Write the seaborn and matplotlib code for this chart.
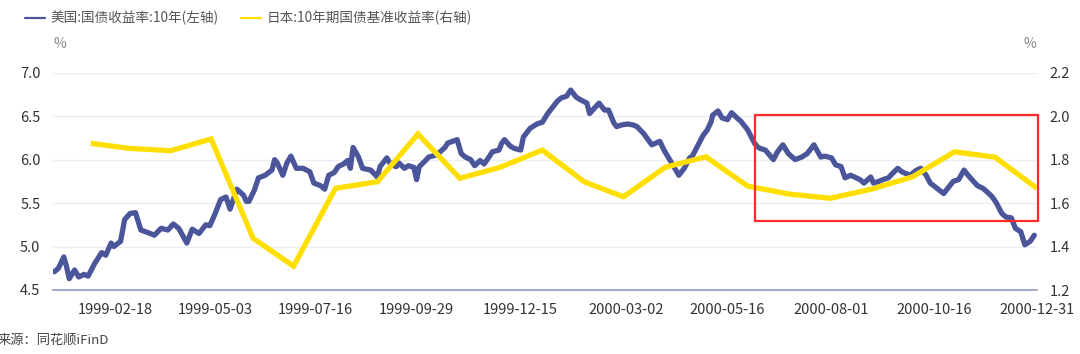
import matplotlib
matplotlib.use('Agg')
import matplotlib.pyplot as plt
import matplotlib.dates as mdates
from matplotlib.patches import Rectangle
from matplotlib.lines import Line2D
import seaborn as sns
import pandas as pd

# ---------------- data ----------------
us_dates = [
    "1999-01-04", "1999-01-07", "1999-01-11", "1999-01-13", "1999-01-15", "1999-01-19", "1999-01-22",
    "1999-01-26", "1999-01-29", "1999-02-03", "1999-02-08", "1999-02-11", "1999-02-15", "1999-02-17",
    "1999-02-22", "1999-02-25", "1999-03-01", "1999-03-05", "1999-03-09", "1999-03-16", "1999-03-19",
    "1999-03-24", "1999-03-29", "1999-04-02", "1999-04-06", "1999-04-12", "1999-04-16", "1999-04-21",
    "1999-04-26", "1999-04-29", "1999-05-03", "1999-05-07", "1999-05-11", "1999-05-14", "1999-05-19",
    "1999-05-24", "1999-05-26", "1999-05-28", "1999-06-01", "1999-06-04", "1999-06-09", "1999-06-14",
    "1999-06-16", "1999-06-18", "1999-06-22", "1999-06-25", "1999-06-28", "1999-07-02", "1999-07-07",
    "1999-07-12", "1999-07-15", "1999-07-20", "1999-07-23", "1999-07-26", "1999-07-30", "1999-08-02",
    "1999-08-06", "1999-08-09", "1999-08-11", "1999-08-13", "1999-08-17", "1999-08-20", "1999-08-26",
    "1999-08-31", "1999-09-02", "1999-09-07", "1999-09-10", "1999-09-14", "1999-09-16", "1999-09-20",
    "1999-09-23", "1999-09-27", "1999-09-29", "1999-10-01", "1999-10-05", "1999-10-08", "1999-10-13",
    "1999-10-15", "1999-10-20", "1999-10-22", "1999-10-29", "1999-11-01", "1999-11-04", "1999-11-08",
    "1999-11-11", "1999-11-15", "1999-11-18", "1999-11-22", "1999-11-24", "1999-11-29", "1999-12-01",
    "1999-12-03", "1999-12-07", "1999-12-10", "1999-12-15", "1999-12-17", "1999-12-22", "1999-12-27",
    "1999-12-31", "2000-01-04", "2000-01-07", "2000-01-11", "2000-01-14", "2000-01-18", "2000-01-21",
    "2000-01-25", "2000-01-28", "2000-02-02", "2000-02-04", "2000-02-08", "2000-02-11", "2000-02-15",
    "2000-02-18", "2000-02-22", "2000-02-24", "2000-02-28", "2000-03-03", "2000-03-07", "2000-03-10",
    "2000-03-15", "2000-03-21", "2000-03-27", "2000-03-30", "2000-04-04", "2000-04-10", "2000-04-14",
    "2000-04-18", "2000-04-20", "2000-04-25", "2000-04-28", "2000-05-01", "2000-05-04", "2000-05-05",
    "2000-05-09", "2000-05-12", "2000-05-16", "2000-05-19", "2000-05-23", "2000-05-26", "2000-05-31",
    "2000-06-05", "2000-06-07", "2000-06-09", "2000-06-13", "2000-06-19", "2000-06-22", "2000-06-26",
    "2000-06-30", "2000-07-05", "2000-07-10", "2000-07-14", "2000-07-19", "2000-07-24", "2000-07-27",
    "2000-08-01", "2000-08-04", "2000-08-08", "2000-08-11", "2000-08-15", "2000-08-18", "2000-08-22",
    "2000-08-25", "2000-08-30", "2000-09-01", "2000-09-05", "2000-09-08", "2000-09-12", "2000-09-15",
    "2000-09-19", "2000-09-22", "2000-09-28", "2000-10-03", "2000-10-06", "2000-10-10", "2000-10-13",
    "2000-10-18", "2000-10-23", "2000-10-26", "2000-10-30", "2000-11-03", "2000-11-07", "2000-11-10",
    "2000-11-14", "2000-11-17", "2000-11-21", "2000-11-24", "2000-11-28", "2000-12-01", "2000-12-05",
    "2000-12-08", "2000-12-12", "2000-12-15", "2000-12-19", "2000-12-22", "2000-12-26", "2000-12-29",
]
us_yield = [
    4.71, 4.75, 4.88, 4.77, 4.63, 4.73, 4.65,
    4.68, 4.66, 4.81, 4.93, 4.90, 5.04, 5.00,
    5.06, 5.31, 5.38, 5.39, 5.19, 5.15, 5.13,
    5.21, 5.19, 5.26, 5.21, 5.04, 5.20, 5.15,
    5.25, 5.24, 5.38, 5.54, 5.57, 5.43, 5.66,
    5.59, 5.52, 5.52, 5.65, 5.79, 5.82, 5.88,
    6.00, 5.96, 5.82, 5.96, 6.04, 5.90, 5.90,
    5.86, 5.73, 5.70, 5.66, 5.82, 5.85, 5.92,
    5.95, 5.99, 5.90, 6.14, 6.03, 5.90, 5.88,
    5.80, 5.92, 6.02, 5.94, 5.92, 5.96, 5.90,
    5.93, 5.91, 5.77, 5.92, 5.98, 6.03, 6.05,
    6.07, 6.14, 6.19, 6.23, 6.07, 6.03, 6.00,
    5.93, 5.99, 5.95, 6.04, 6.09, 6.11, 6.19,
    6.23, 6.16, 6.13, 6.11, 6.26, 6.36, 6.41,
    6.43, 6.53, 6.59, 6.67, 6.71, 6.73, 6.80,
    6.72, 6.69, 6.65, 6.53, 6.60, 6.65, 6.57,
    6.57, 6.42, 6.38, 6.40, 6.41, 6.40, 6.38,
    6.30, 6.17, 6.21, 6.11, 5.98, 5.82, 5.90,
    6.02, 6.04, 6.19, 6.28, 6.34, 6.44, 6.51,
    6.56, 6.48, 6.46, 6.54, 6.48, 6.44, 6.34,
    6.19, 6.15, 6.13, 6.11, 6.00, 6.09, 6.17,
    6.07, 6.00, 6.03, 6.07, 6.17, 6.03, 6.04,
    6.02, 5.94, 5.92, 5.79, 5.82, 5.80, 5.77,
    5.73, 5.80, 5.73, 5.75, 5.77, 5.79, 5.84,
    5.90, 5.86, 5.82, 5.88, 5.90, 5.82, 5.73,
    5.67, 5.61, 5.67, 5.75, 5.77, 5.88, 5.82,
    5.75, 5.70, 5.67, 5.63, 5.57, 5.50, 5.38,
    5.34, 5.33, 5.21, 5.17, 5.02, 5.06, 5.13,
]

jp_dates = [
    "1999-01-31", "1999-02-28", "1999-03-31", "1999-04-30", "1999-05-31", "1999-06-30",
    "1999-07-31", "1999-08-31", "1999-09-30", "1999-10-31", "1999-11-30", "1999-12-31",
    "2000-01-31", "2000-02-29", "2000-03-31", "2000-04-30", "2000-05-31", "2000-06-30",
    "2000-07-31", "2000-08-31", "2000-09-30", "2000-10-31", "2000-11-30", "2000-12-31",
]
jp_yield = [
    1.875, 1.852, 1.841, 1.895, 1.438, 1.310,
    1.668, 1.698, 1.918, 1.714, 1.765, 1.844,
    1.698, 1.629, 1.765, 1.813, 1.678, 1.642,
    1.622, 1.665, 1.721, 1.836, 1.811, 1.668,
]

tick_labels = ["1999-02-18", "1999-05-03", "1999-07-16", "1999-09-29", "1999-12-15",
               "2000-03-02", "2000-05-16", "2000-08-01", "2000-10-16", "2000-12-31"]
left_ticks = [4.5, 5.0, 5.5, 6.0, 6.5, 7.0]
right_ticks = [1.2, 1.4, 1.6, 1.8, 2.0, 2.2]

us_name = "美国:国债收益率:10年(左轴)"
jp_name = "日本:10年期国债基准收益率(右轴)"
source_text = "来源：同花顺iFinD"

us_df = pd.DataFrame({"date": pd.to_datetime(us_dates), "value": us_yield})
jp_df = pd.DataFrame({"date": pd.to_datetime(jp_dates), "value": jp_yield})

# ---------------- style ----------------
sns.set_theme(style="white")
plt.rcParams['font.family'] = ['Noto Sans CJK SC', 'DejaVu Sans']
plt.rcParams['axes.unicode_minus'] = False

BLUE = "#4a5699"
YELLOW = "#ffdf00"
GRID = "#eceef6"
TXT = "#333333"

fig = plt.figure(figsize=(10.8, 3.54), dpi=100)
ax = fig.add_axes([53 / 1080, 1 - 290 / 354, (1037 - 53) / 1080, (290 - 72.7) / 354])
ax2 = ax.twinx()

sns.lineplot(data=us_df, x="date", y="value", ax=ax, color=BLUE, linewidth=3.8, legend=False,
             solid_joinstyle="round", solid_capstyle="round")
sns.lineplot(data=jp_df, x="date", y="value", ax=ax2, color=YELLOW, linewidth=3.8, legend=False,
             solid_joinstyle="miter", solid_capstyle="butt")

ax.set_xlim(pd.Timestamp("1999-01-03"), pd.Timestamp("2000-12-31"))
ax.set_ylim(4.5, 7.0)
ax2.set_ylim(1.2, 2.2)
ax.set_yticks(left_ticks)
ax.set_yticklabels([f"{v:.1f}" for v in left_ticks])
ax2.set_yticks(right_ticks)
ax2.set_yticklabels([f"{v:.1f}" for v in right_ticks])
ax.set_xticks(pd.to_datetime(tick_labels))
ax.xaxis.set_major_formatter(mdates.DateFormatter("%Y-%m-%d"))

for a in (ax, ax2):
    a.set_xlabel("")
    a.set_ylabel("")
    for s in a.spines.values():
        s.set_visible(False)
ax.spines['bottom'].set_visible(True)
ax.spines['bottom'].set_color("#9ba3c4")
ax.spines['bottom'].set_linewidth(1.3)

ax.yaxis.grid(True, color=GRID, linewidth=1.0)
ax.xaxis.grid(False)
ax2.grid(False)
ax.set_axisbelow(True)

ax.tick_params(axis='y', length=0, pad=9, labelsize=10.5, labelcolor=TXT)
ax.tick_params(axis='x', length=0, pad=9, labelsize=10.5, labelcolor=TXT)
ax2.tick_params(axis='y', length=0, pad=9, labelsize=10.5, labelcolor=TXT)

# highlight box (annotation)
x0 = mdates.date2num(pd.Timestamp("2000-06-05"))
x1 = mdates.date2num(pd.Timestamp("2001-01-01"))
rect = Rectangle((x0, 1.517), x1 - x0, 2.005 - 1.517, transform=ax2.transData,
                 fill=False, edgecolor="#ff2a2a", linewidth=1.6, clip_on=False, zorder=5)
ax2.add_patch(rect)

# unit labels
fig.text(60 / 1080, 1 - 44 / 354, "%", ha="center", va="center", fontsize=10, color="#888888")
fig.text(1030 / 1080, 1 - 44 / 354, "%", ha="center", va="center", fontsize=10, color="#888888")

# legend
handles = [Line2D([0], [0], color=BLUE, lw=1.6), Line2D([0], [0], color=YELLOW, lw=1.6)]
fig.legend(handles, [us_name, jp_name], loc="center left", bbox_to_anchor=(25 / 1080, 1 - 18 / 354),
           ncol=2, frameon=False, fontsize=9.8, handlelength=1.45, handletextpad=0.45,
           columnspacing=1.6, borderpad=0, borderaxespad=0, labelcolor="#555555")

fig.text(-2 / 1080, 1 - 340 / 354, source_text, ha="left", va="center", fontsize=9.5, color="#444444")

fig.savefig("out.png", dpi=100)
